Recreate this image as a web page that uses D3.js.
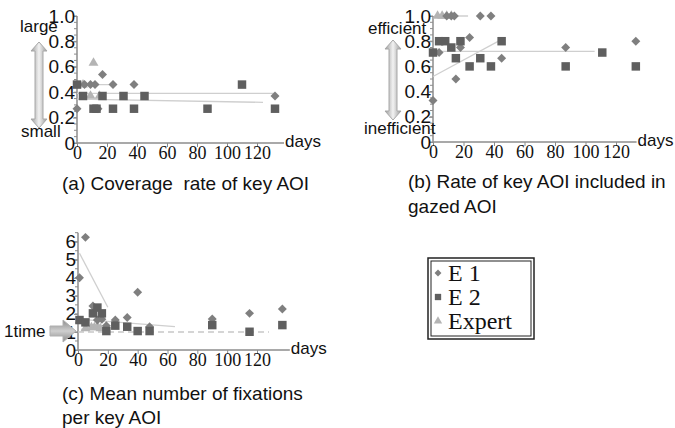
<!DOCTYPE html>
<html>
<head>
<meta charset="utf-8">
<script src="https://cdn.jsdelivr.net/npm/d3@7"></script>
<style>
  body { margin: 0; background: #fff; }
  svg { display: block; }
</style>
</head>
<body>
<svg id="chart" width="675" height="428"></svg>
<script>
// ---- data ----
var yTicksRate = [0, 0.2, 0.4, 0.6, 0.8, 1.0];
var yTicksFix = [0, 1, 2, 3, 4, 5, 6];
var xTicks = [0, 20, 40, 60, 80, 100, 120];

// (a) coverage rate of key AOI  [day, value]
var covE1 = [[0,0.27],[5,0.46],[9,0.46],[12,0.46],[14,0.27],[17,0.54],[24,0.46],[38,0.46],[132,0.37]];
var covE2 = [[0,0.46],[4,0.37],[11,0.27],[13,0.27],[17,0.37],[24,0.27],[31,0.37],[38,0.27],[45,0.37],[87,0.27],[110,0.46],[132,0.27]];
var covEx = [[4,0.46],[9,0.37],[11,0.63],[15,0.37]];
var covTrends = [[[0,0.39],[132,0.39]], [[0,0.345],[124,0.32]], [[0,0.46],[24,0.46]]];

// (b) rate of key AOI included in gazed AOI
var rateE1 = [[0,0.33],[4,0.71],[9,1.0],[12,1.0],[14,1.0],[15,0.5],[18,0.75],[24,0.83],[31,1.0],[38,1.0],[45,0.665],[87,0.75],[133,0.8]];
var rateE2 = [[0,0.71],[4,0.8],[8,0.8],[12,0.75],[15,0.665],[18,0.8],[24,0.6],[31,0.665],[38,0.6],[45,0.8],[87,0.6],[111,0.71],[133,0.6]];
var rateEx = [[3,1.0],[6,1.0],[9,1.0],[12,1.0]];
var rateTrends = [[[0,0.52],[46,0.82]], [[0,0.72],[106,0.72]], [[1,1.0],[23,1.0]]];

// (c) mean number of fixations per key AOI
var fixE1 = [[1,4.0],[5,6.24],[10,2.44],[13,1.66],[16,1.7],[19,1.35],[25,1.66],[33,1.8],[40,3.2],[48,1.29],[90,1.72],[115,2.03],[137,2.27]];
var fixE2 = [[1,1.66],[5,1.53],[10,2.03],[13,2.35],[16,2.03],[19,1.05],[25,1.35],[33,1.29],[40,1.05],[48,1.05],[90,1.38],[115,1.01],[137,1.38]];
var fixEx = [[5,1.2],[9,1.25],[11,1.25],[13,1.3],[15,1.2]];
var fixTrends = [[[1,5.36],[20,2.37]], [[2,1.7],[65,1.29]], [[2,1.15],[20,1.15]]];
var fixRef = [[0,1],[128,1]];

var legendNames = ["E 1", "E 2", "Expert"];

var svg = d3.select("#chart");
var axisColor = "#8c8c8c";
var colE1 = "#7f7f7f", colE2 = "#5f5f5f", colEx = "#b4b4b4", trendCol = "#cfcfcf";

// square diamond (rotated square), the d3 one is too narrow
var squareDiamond = {
    draw: function(ctx, size) {
        var r = Math.sqrt(size / 2);
        ctx.moveTo(0, -r); ctx.lineTo(r, 0); ctx.lineTo(0, r); ctx.lineTo(-r, 0); ctx.closePath();
    }
};

var defs = svg.append("defs");
var grad = defs.append("linearGradient").attr("id", "arrowGrad")
    .attr("x1", 0).attr("x2", 1).attr("y1", 0).attr("y2", 0);
grad.append("stop").attr("offset", "0%").attr("stop-color", "#9a9a9a");
grad.append("stop").attr("offset", "50%").attr("stop-color", "#f2f2f2");
grad.append("stop").attr("offset", "100%").attr("stop-color", "#9a9a9a");
var grad2 = defs.append("linearGradient").attr("id", "arrowGradV")
    .attr("x1", 0).attr("x2", 0).attr("y1", 0).attr("y2", 1);
grad2.append("stop").attr("offset", "0%").attr("stop-color", "#8a8a8a");
grad2.append("stop").attr("offset", "50%").attr("stop-color", "#cfcfcf");
grad2.append("stop").attr("offset", "100%").attr("stop-color", "#8a8a8a");

function panel(opt) {
    var x = d3.scaleLinear().domain([0, 120]).range([opt.x0, opt.x120]);
    var y = d3.scaleLinear().domain([0, opt.yMax]).range([opt.yBottom, opt.yTop]);
    var g = svg.append("g");

    // minor y ticks
    var minor = d3.range(0, opt.yTopVal + 1e-9, opt.minorStep);
    g.selectAll(".minor").data(minor).join("line")
        .attr("x1", opt.x0 - 3).attr("x2", opt.x0)
        .attr("y1", d => y(d)).attr("y2", d => y(d))
        .attr("stroke", axisColor).attr("stroke-width", 1);

    // y axis
    var yAxis = d3.axisLeft(y).tickValues(opt.yTicks).tickSize(4)
        .tickFormat(opt.yFormat);
    var ya = g.append("g").attr("transform", "translate(" + opt.x0 + ",0)").call(yAxis);
    ya.select(".domain").remove();
    ya.selectAll(".tick line").attr("stroke", axisColor);
    ya.selectAll("text").attr("font-family", "Liberation Sans, Arial, sans-serif")
        .attr("font-size", 19).attr("fill", "#111").attr("x", -2);
    g.append("line").attr("x1", opt.x0).attr("x2", opt.x0)
        .attr("y1", y(0)).attr("y2", y(opt.yTopVal))
        .attr("stroke", axisColor).attr("stroke-width", 1.5);

    // x axis
    var xAxis = d3.axisBottom(x).tickValues(xTicks).tickSize(4).tickSizeOuter(0);
    var xa = g.append("g").attr("transform", "translate(0," + y(0) + ")").call(xAxis);
    xa.select(".domain").remove();
    xa.selectAll(".tick line").attr("stroke", axisColor);
    xa.selectAll("text").attr("font-family", "Liberation Serif, Times New Roman, serif")
        .attr("font-size", 18).attr("fill", "#111").attr("dy", "0.5em");
    g.append("line").attr("x1", opt.x0).attr("x2", x(opt.xEnd))
        .attr("y1", y(0)).attr("y2", y(0))
        .attr("stroke", axisColor).attr("stroke-width", 1.5);
    g.append("text").attr("x", x(opt.xEnd) + 1).attr("y", y(0) + 4)
        .attr("font-family", "Liberation Sans, Arial, sans-serif").attr("font-size", 17)
        .attr("fill", "#111").text("days");

    var line = d3.line().x(d => x(d[0])).y(d => y(d[1]));
    if (opt.ref) {
        g.append("path").datum(opt.ref).attr("d", line).attr("fill", "none")
            .attr("stroke", "#c8c8c8").attr("stroke-width", 1.5).attr("stroke-dasharray", "6,4");
    }
    g.selectAll(".trend").data(opt.trends).join("path")
        .attr("d", line).attr("fill", "none")
        .attr("stroke", trendCol).attr("stroke-width", 1.3);

    var sym = [
        {data: opt.e1, type: squareDiamond, size: 40, col: colE1},
        {data: opt.e2, type: d3.symbolSquare, size: 72, col: colE2},
        {data: opt.ex, type: d3.symbolTriangle, size: 42, col: colEx}
    ];
    // draw expert first so the dark marks stay on top
    [sym[2], sym[0], sym[1]].forEach(s => {
        g.selectAll(null).data(s.data).join("path")
            .attr("transform", d => "translate(" + x(d[0]) + "," + y(d[1]) + ")")
            .attr("d", d3.symbol().type(s.type).size(s.size))
            .attr("fill", s.col);
    });
    return {x: x, y: y};
}

panel({x0: 77, x120: 257, yBottom: 143, yTop: 16, yMax: 1.0, yTopVal: 1.0, minorStep: 0.05,
    yTicks: yTicksRate, yFormat: d => d === 0 ? "0" : d3.format(".1f")(d), xEnd: 138,
    e1: covE1, e2: covE2, ex: covEx, trends: covTrends});

panel({x0: 433, x120: 616, yBottom: 142, yTop: 16, yMax: 1.0, yTopVal: 1.0, minorStep: 0.05,
    yTicks: yTicksRate, yFormat: d => d === 0 ? "0" : d3.format(".1f")(d), xEnd: 133.5,
    e1: rateE1, e2: rateE2, ex: rateEx, trends: rateTrends});

panel({x0: 78, x120: 257, yBottom: 350, yTop: 241.7, yMax: 6, yTopVal: 6.5, minorStep: 0.5,
    yTicks: yTicksFix, yFormat: d3.format("d"), xEnd: 142,
    e1: fixE1, e2: fixE2, ex: fixEx, trends: fixTrends, ref: fixRef});

// double-headed vertical arrows
function vArrow(cx, y1, y2) {
    var w = 4, hw = 8, hh = 9;
    var p = "M" + cx + "," + y1 + " L" + (cx + hw) + "," + (y1 + hh) + " L" + (cx + w) + "," + (y1 + hh) +
        " L" + (cx + w) + "," + (y2 - hh) + " L" + (cx + hw) + "," + (y2 - hh) + " L" + cx + "," + y2 +
        " L" + (cx - hw) + "," + (y2 - hh) + " L" + (cx - w) + "," + (y2 - hh) + " L" + (cx - w) + "," + (y1 + hh) +
        " L" + (cx - hw) + "," + (y1 + hh) + "Z";
    svg.append("path").attr("d", p).attr("fill", "url(#arrowGrad)")
        .attr("stroke", "#a8a8a8").attr("stroke-width", 1);
}
vArrow(39, 42, 128);
vArrow(393, 40, 120);

// right arrow for "1time"
svg.append("path")
    .attr("d", "M50,326 L63,326 L63,320 L76,331 L63,342 L63,336 L50,336 Z")
    .attr("fill", "url(#arrowGradV)").attr("stroke", "#b0b0b0");

var sans = "Liberation Sans, Arial, sans-serif";
var labels = [
    {t: "large", x: 20, y: 32},
    {t: "small", x: 21, y: 137},
    {t: "efficient", x: 368, y: 34},
    {t: "inefficient", x: 364, y: 134},
    {t: "1time", x: 4, y: 337}
];
svg.selectAll(".lbl").data(labels).join("text")
    .attr("x", d => d.x).attr("y", d => d.y).text(d => d.t)
    .attr("font-family", sans).attr("font-size", 17).attr("fill", "#111");

var captions = [
    {t: "(a) Coverage  rate of key AOI", x: 62, y: 190},
    {t: "(b) Rate of key AOI included in", x: 408, y: 188},
    {t: "gazed AOI", x: 408, y: 213},
    {t: "(c) Mean number of fixations", x: 62, y: 400},
    {t: "per key AOI", x: 62, y: 424}
];
svg.selectAll(".cap").data(captions).join("text")
    .attr("x", d => d.x).attr("y", d => d.y).text(d => d.t)
    .attr("xml:space", "preserve").style("white-space", "pre")
    .attr("font-family", sans).attr("font-size", 19).attr("fill", "#111");

// legend
var lg = svg.append("g");
lg.append("rect").attr("x", 428).attr("y", 258).attr("width", 106).attr("height", 81)
    .attr("fill", "#fff").attr("stroke", "#222").attr("stroke-width", 1.5);
lg.append("rect").attr("x", 431).attr("y", 261).attr("width", 100).attr("height", 75)
    .attr("fill", "none").attr("stroke", "#222").attr("stroke-width", 1);
var legSyms = [
    {type: squareDiamond, size: 24, col: colE1},
    {type: d3.symbolSquare, size: 40, col: colE2},
    {type: d3.symbolTriangle, size: 30, col: colEx}
];
legendNames.forEach((n, i) => {
    var yy = 273 + i * 24;
    lg.append("path").attr("transform", "translate(438," + yy + ")")
        .attr("d", d3.symbol().type(legSyms[i].type).size(legSyms[i].size))
        .attr("fill", legSyms[i].col);
    lg.append("text").attr("x", 448).attr("y", yy + 8).text(n)
        .attr("font-family", "Liberation Serif, Times New Roman, serif")
        .attr("font-size", 24).attr("fill", "#111");
});
</script>
</body>
</html>
